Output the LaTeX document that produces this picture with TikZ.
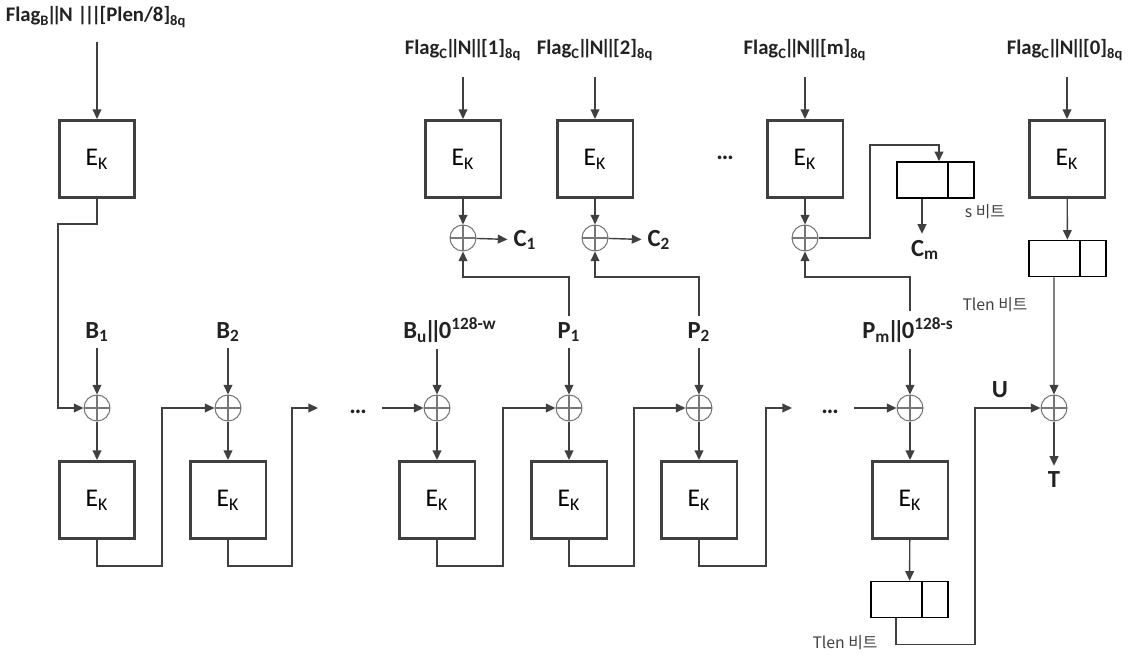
\documentclass[tikz,border=0pt]{standalone}
\usepackage{fontspec}
\setmainfont{Carlito}
\newfontfamily\kofont{Noto Sans CJK KR}
\usepackage{tikz}
\usetikzlibrary{positioning,arrows.meta}
\usepackage{xcolor}
\definecolor{linegray}{HTML}{404040}
\definecolor{ringgray}{HTML}{777777}
\definecolor{inkgray}{HTML}{222222}
\newcommand{\bb}{\kern-0.12em|\kern-0.24em|\kern-0.12em}

\begin{document}
\begin{tikzpicture}[x=0.02cm,y=-0.02cm,
  ek/.style={draw=linegray,line width=1.7pt,minimum width=1.52cm,minimum height=1.54cm,inner sep=0pt,font=\fontsize{14.5}{16}\selectfont},
  xo/.style={circle,draw=ringgray,line width=0.6pt,minimum size=0.52cm,inner sep=0pt,
    path picture={\draw[ringgray,line width=0.6pt] (path picture bounding box.north) -- (path picture bounding box.south)
      (path picture bounding box.west) -- (path picture bounding box.east);}},
  half/.style={draw=black,line width=0.9pt,minimum width=1.55cm,minimum height=0.72cm,inner sep=0pt},
  flag/.style={font=\bfseries\fontsize{11.8}{13}\selectfont,text=inkgray},
  big/.style={font=\bfseries\fontsize{14}{16}\selectfont,text=inkgray},
  bits/.style={font=\kofont\fontsize{9}{11}\selectfont,text=linegray},
  dots/.style={font=\bfseries\fontsize{14}{16}\selectfont,text=inkgray},
  arr/.style={draw=linegray,line width=0.8pt,-{Triangle[length=5.5pt,width=5pt]}}]
\useasboundingbox (0,0) rectangle (1134,656);

% counter blocks on top
\node[flag] (fB) at (96,17) {Flag\textsubscript{B}\bb N |\kern-.14em|\kern-.14em|\kern-.08em[Plen/8]\textsubscript{8q}};
\node[flag] (f1) at (463,50) {Flag\textsubscript{C}\bb N\bb[1]\textsubscript{8q}};
\node[flag] (f2) at (595,50) {Flag\textsubscript{C}\bb N\bb[2]\textsubscript{8q}};
\node[flag] (fm) at (805,50) {Flag\textsubscript{C}\bb N\bb[m]\textsubscript{8q}};
\node[flag] (f0) at (1065,50) {Flag\textsubscript{C}\bb N\bb[0]\textsubscript{8q}};
\coordinate (iB) at (97,42);
\coordinate (i1) at (463,77);
\coordinate (i2) at (595,77);
\coordinate (im) at (805,77);
\coordinate (i0) at (1067,77);

\node[ek] (ek0) at (97,159) {E\textsubscript{K}};
\node[ek] (t1) at (463,159) {E\textsubscript{K}};
\node[ek] (t2) at (595,159) {E\textsubscript{K}};
\node[ek] (tm) at (805,159) {E\textsubscript{K}};
\node[ek] (t0) at (1067,159) {E\textsubscript{K}};
\node[dots] (dt) at (725,158) {\dots};

\node[xo] (y1) at (463,238) {};
\node[xo] (y2) at (595,238) {};
\node[xo] (ym) at (805,238) {};
\node[big] (C1) at (525,240) {C\textsubscript{1}};
\node[big] (C2) at (659,240) {C\textsubscript{2}};
\node[half] (sm) at (935.5,180) {};
\node[big] (Cm) at (925,250) {C\textsubscript{m}};
\node[bits] (sb) at (985,212) {s 비트};
\node[half] (s0) at (1067.5,258.5) {};
\node[bits] (tb0) at (995,305) {Tlen 비트};

% CBC-MAC chain
\node[big] (B1) at (97,332) {B\textsubscript{1}};
\node[big] (B2) at (228,332) {B\textsubscript{2}};
\node[big] (Bu) at (450,330) {B\textsubscript{u}\bb0\textsuperscript{128-w}};
\node[big] (P1) at (569,332) {P\textsubscript{1}};
\node[big] (P2) at (699,332) {P\textsubscript{2}};
\node[big] (Pm) at (908,330) {P\textsubscript{m}\bb0\textsuperscript{128-s}};

\node[xo] (x1) at (97,408) {};
\node[xo] (x2) at (228,408) {};
\node[xo] (x3) at (437,408) {};
\node[xo] (x4) at (569,408) {};
\node[xo] (x5) at (699,408) {};
\node[xo] (x6) at (910,408) {};
\node[xo] (xf) at (1054,408) {};

\node[ek] (e1) at (97,500) {E\textsubscript{K}};
\node[ek] (e2) at (228,500) {E\textsubscript{K}};
\node[ek] (e3) at (437,500) {E\textsubscript{K}};
\node[ek] (e4) at (569,500) {E\textsubscript{K}};
\node[ek] (e5) at (699,500) {E\textsubscript{K}};
\node[ek] (e6) at (910,500) {E\textsubscript{K}};

\node[dots] (dl1) at (358,412) {\dots};
\node[dots] (dl2) at (830,412) {\dots};
\coordinate (g1) at (318,408);
\coordinate (g2) at (382,408);
\coordinate (g3) at (792,408);
\coordinate (g4) at (854,408);

\node[half] (sl) at (909.5,599.5) {};
\node[bits] (tbl) at (845,643) {Tlen 비트};
\node[big] (U) at (1000,390) {U};
\node[big] (T) at (1054,480) {T};

% split marks
\foreach \b in {sm,s0,sl}
  \draw[black,line width=0.9pt] ([xshift=0.25cm]\b.north) -- ([xshift=0.25cm]\b.south);

% top arrows
\draw[arr] (iB) -- (ek0);
\draw[arr] (i1) -- (t1);
\draw[arr] (i2) -- (t2);
\draw[arr] (im) -- (tm);
\draw[arr] (i0) -- (t0);
\draw[arr] (t1) -- (y1);
\draw[arr] (t2) -- (y2);
\draw[arr] (tm) -- (ym);
\draw[arr] (y1) -- (C1);
\draw[arr] (y2) -- (C2);
\draw[arr] (ym) -- (870,238) -- (870,145) -| ([xshift=0.07cm]sm.north);
\draw[arr] ([xshift=-0.27cm]sm.south) -- ([xshift=-0.27cm]sm.south |- Cm.north);
\draw[arr] (t0) -- (s0);
\draw[arr] ([xshift=-0.27cm]s0.south) -- (xf);

% plaintext into the counter xors
\draw[arr] (P1.north) -- (P1.north |- 0,277) -| (y1);
\draw[arr] (P2.north) -- (P2.north |- 0,277) -| (y2);
\draw[arr] (x6 |- Pm.north) -- (x6 |- 0,277) -| (ym);

% chain
\draw[arr] (ek0) -- (97,224) -| (58,408) -- (x1);
\draw[arr] (B1) -- (x1);
\draw[arr] (B2) -- (x2);
\draw[arr] (x3 |- Bu.south) -- (x3);
\draw[arr] (P1) -- (x4);
\draw[arr] (P2) -- (x5);
\draw[arr] (x6 |- Pm.south) -- (x6);
\draw[arr] (x1) -- (e1);
\draw[arr] (x2) -- (e2);
\draw[arr] (x3) -- (e3);
\draw[arr] (x4) -- (e4);
\draw[arr] (x5) -- (e5);
\draw[arr] (x6) -- (e6);
\draw[arr] (e1) -- (e1 |- 0,566) -| (162,408) -- (x2);
\draw[arr] (e2) -- (e2 |- 0,566) -| (292,408) -- (g1);
\draw[arr] (g2) -- (x3);
\draw[arr] (e3) -- (e3 |- 0,566) -| (503,408) -- (x4);
\draw[arr] (e4) -- (e4 |- 0,566) -| (634,408) -- (x5);
\draw[arr] (e5) -- (e5 |- 0,566) -| (766,408) -- (g3);
\draw[arr] (g4) -- (x6);
\draw[arr] (e6) -- (sl);
\draw[arr] ([xshift=-0.27cm]sl.south) -- ++(0,26) -| (975,408) -- (xf);
\draw[arr] (xf) -- (T);
\end{tikzpicture}
\end{document}
